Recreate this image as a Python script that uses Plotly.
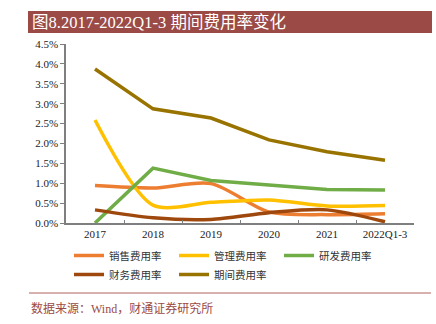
import plotly.graph_objects as go

categories = ["2017", "2018", "2019", "2020", "2021", "2022Q1-3"]
sales_rate = [0.0094, 0.0088, 0.0099, 0.0028, 0.0021, 0.0023]
admin_rate = [0.0259, 0.0045, 0.0052, 0.0058, 0.0043, 0.0044]
rd_rate = [0.0000, 0.0138, 0.0107, 0.0095, 0.0084, 0.0083]
fin_rate = [0.0033, 0.0013, 0.0009, 0.0026, 0.0033, 0.0003]
period_rate = [0.0387, 0.0287, 0.0264, 0.0209, 0.0179, 0.0158]

series = [
    ("销售费用率", sales_rate, "#ED7D31", "spline"),
    ("管理费用率", admin_rate, "#FFC000", "spline"),
    ("研发费用率", rd_rate, "#70AD47", "linear"),
    ("财务费用率", fin_rate, "#9E480E", "spline"),
    ("期间费用率", period_rate, "#997300", "linear"),
]

fig = go.Figure()
for name, vals, color, shape in series:
    line = dict(color=color, width=3.5, shape=shape)
    if shape == "spline":
        line["smoothing"] = 0.8
    fig.add_trace(go.Scatter(x=categories, y=vals, name=name, mode="lines", line=line))

W, H = 436, 324
L, R, T, B = 66, 22, 44, 101
pw, ph = W - L - R, H - T - B

def px(x):
    return (x - L) / pw

def py(y):
    return (H - B - y) / ph

fig.update_layout(
    width=W, height=H,
    margin=dict(l=L, r=R, t=T, b=B),
    paper_bgcolor="white", plot_bgcolor="white",
    showlegend=True,
    legend=dict(
        orientation="h", x=px(69), y=py(241), xanchor="left", yanchor="top",
        entrywidth=60, entrywidthmode="pixels",
        font=dict(family="Noto Sans CJK SC", size=10.5, color="#333333"),
        itemwidth=30, tracegroupgap=0,
    ),
    xaxis=dict(
        type="category", range=[-0.5, 5.5],
        showline=True, linecolor="#7f7f7f", linewidth=1.5,
        ticks="inside", ticklen=3, tickcolor="#7f7f7f", tickson="boundaries",
        showgrid=False, zeroline=False,
        tickfont=dict(family="Liberation Serif", size=11, color="#222222"),
    ),
    yaxis=dict(
        range=[0, 0.045], dtick=0.005, tickformat=".1%",
        showline=True, linecolor="#7f7f7f", linewidth=1.5,
        ticks="outside", ticklen=4, tickcolor="#7f7f7f",
        showgrid=False, zeroline=False,
        tickfont=dict(family="Liberation Serif", size=11, color="#222222"),
    ),
    shapes=[
        dict(type="rect", xref="paper", yref="paper",
             x0=px(28), x1=px(432), y0=py(33), y1=py(11),
             fillcolor="#9B4A45", line=dict(width=0), layer="below"),
        dict(type="line", xref="paper", yref="paper",
             x0=px(29), x1=px(431), y0=py(293), y1=py(293),
             line=dict(color="#B0605A", width=1)),
    ],
    annotations=[
        dict(text="图8.2017-2022Q1-3 期间费用率变化", xref="paper", yref="paper",
             x=px(30), y=py(22), xanchor="left", yanchor="middle", showarrow=False,
             font=dict(family="Liberation Serif, Noto Sans CJK SC", size=16.5, color="white")),
        dict(text="数据来源：Wind，财通证券研究所", xref="paper", yref="paper",
             x=px(29), y=py(308), xanchor="left", yanchor="middle", showarrow=False,
             font=dict(family="Liberation Serif, Noto Sans CJK SC", size=12, color="#9B4A45")),
    ],
)

fig.write_html("out.html")
